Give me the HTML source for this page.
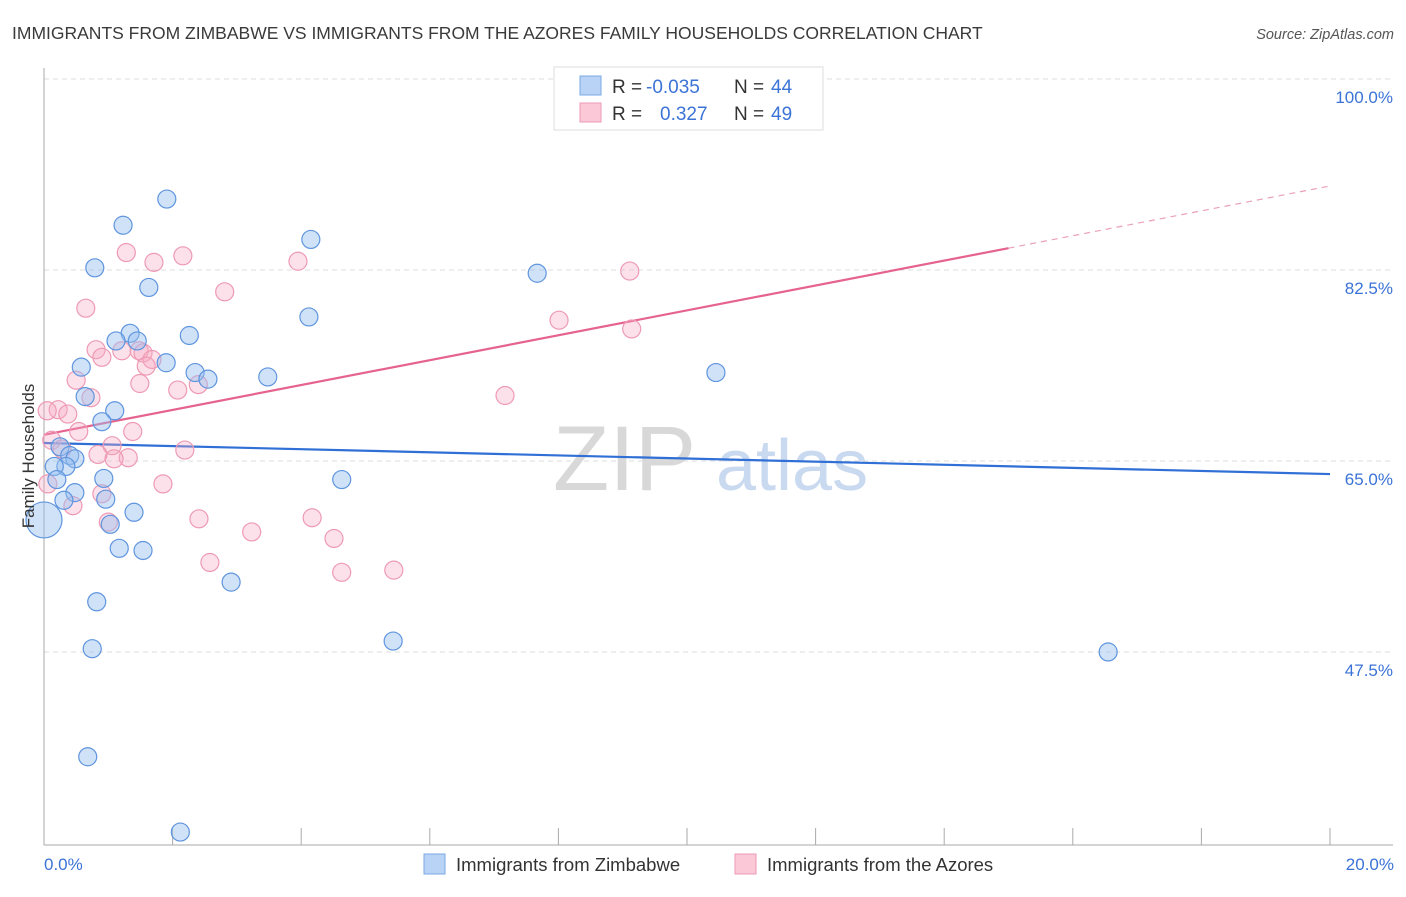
<!DOCTYPE html>
<html><head><meta charset="utf-8"><style>
body{margin:0;background:#fff;font-family:"Liberation Sans",sans-serif;}
svg text{font-family:"Liberation Sans",sans-serif;}
</style></head><body>
<svg id="chart" width="1406" height="892" xmlns="http://www.w3.org/2000/svg">
<text x="12" y="39" font-size="17.5" fill="#3a3a3a">IMMIGRANTS FROM ZIMBABWE VS IMMIGRANTS FROM THE AZORES FAMILY HOUSEHOLDS CORRELATION CHART</text>
<text x="1394" y="39" font-size="14.5" fill="#555" font-style="italic" text-anchor="end">Source: ZipAtlas.com</text>
<g>
<text x="553" y="490" font-size="92" fill="#d8d8d8" font-family="Liberation Serif,serif">ZIP</text>
<text x="716" y="490" font-size="72" fill="#c9d9ef">atlas</text>
</g>
<g id="grid"></g>
<g id="axes"></g>
<g id="trends"></g>
<g id="pts"></g>
<text transform="translate(34,456) rotate(-90)" font-size="17" fill="#333" text-anchor="middle">Family Households</text>
<g>
<rect x="554" y="67" width="269" height="63" fill="#fff" stroke="#ddd"/>
<rect x="580" y="76" width="21" height="19" fill="#b8d3f5" stroke="#7aa8e6"/>
<rect x="580" y="103" width="21" height="19" fill="#fbc8d7" stroke="#ee9ab4"/>
<text x="612" y="93" font-size="19" fill="#333">R =</text>
<text x="646" y="93" font-size="19" fill="#3b73d6">-0.035</text>
<text x="734" y="93" font-size="19" fill="#333">N =</text>
<text x="771" y="93" font-size="19" fill="#3b73d6">44</text>
<text x="612" y="120" font-size="19" fill="#333">R =</text>
<text x="660" y="120" font-size="19" fill="#3b73d6">0.327</text>
<text x="734" y="120" font-size="19" fill="#333">N =</text>
<text x="771" y="120" font-size="19" fill="#3b73d6">49</text>
</g>
<g>
<rect x="424" y="854" width="21" height="20" fill="#b8d3f5" stroke="#7aa8e6"/>
<text x="456" y="871" font-size="18.5" fill="#333">Immigrants from Zimbabwe</text>
<rect x="735" y="854" width="21" height="20" fill="#fbc8d7" stroke="#ee9ab4"/>
<text x="767" y="871" font-size="18.5" fill="#333">Immigrants from the Azores</text>
</g>
</svg>
<script>
const yTicks=[100,82.5,65,47.5];
const yTickLabels=["100.0%","82.5%","65.0%","47.5%"];
const xTickLabels=["0.0%","20.0%"];
const blueX=[1.91,1.23,4.15,0.79,7.67,1.63,4.12,1.34,2.26,1.12,1.45,1.90,0.58,2.35,2.55,3.48,10.45,0.64,1.10,0.90,0.25,0.40,0.48,0.34,0.16,0.20,0.93,4.63,0.48,0.31,0.96,1.40,1.03,1.17,1.54,2.91,0.82,5.43,0.75,16.55,0.68,2.12,0.0];
const blueY=[89.0,86.6,85.3,82.7,82.2,80.9,78.2,76.7,76.5,76.0,76.0,74.0,73.6,73.1,72.5,72.7,73.1,70.9,69.6,68.6,66.3,65.5,65.2,64.5,64.5,63.3,63.4,63.3,62.1,61.4,61.5,60.3,59.2,57.0,56.8,53.9,52.1,48.5,47.8,47.5,37.9,31.0,59.6];
const blueR=[9,9,9,9,9,9,9,9,9,9,9,9,9,9,9,9,9,9,9,9,9,9,9,9,9,9,9,9,9,9,9,9,9,9,9,9,9,9,9,9,9,9,18];
const pinkX=[11.06,1.28,2.16,1.71,3.95,9.11,2.81,0.65,8.01,9.14,0.81,1.21,1.48,1.54,0.90,1.68,1.59,1.49,0.50,2.08,2.40,7.17,0.73,0.22,0.05,0.37,0.54,1.38,0.12,1.06,0.84,1.31,1.09,0.28,2.19,0.06,1.85,0.90,0.45,1.00,2.41,3.23,4.17,4.51,2.58,4.63,5.44];
const pinkY=[99.9,84.1,83.8,83.2,83.3,82.4,80.5,79.0,77.9,77.1,75.2,75.1,75.1,74.9,74.5,74.3,73.7,72.1,72.4,71.5,72.0,71.0,70.8,69.7,69.6,69.3,67.7,67.7,66.9,66.4,65.6,65.3,65.2,66.1,66.0,62.9,62.9,62.0,60.9,59.4,59.7,58.5,59.8,57.9,55.7,54.8,55.0];
const blueTrend=[66.65,63.8];
const pinkTrend=[67.4,90.2];
const pinkSolidEnd=15.0;

const NS="http://www.w3.org/2000/svg";
const X0=44,X1=1330,Y0=79,PPU=10.914;
function sx(v){return X0+(v/20)*(X1-X0);}
function sy(v){return Y0+(100-v)*PPU;}
function mk(tag,attrs,parent){const e=document.createElementNS(NS,tag);for(const k in attrs)e.setAttribute(k,attrs[k]);parent.appendChild(e);return e;}
const grid=document.getElementById('grid'),axes=document.getElementById('axes'),trends=document.getElementById('trends'),pts=document.getElementById('pts');
yTicks.forEach((t,i)=>{
 const l=mk('line',{x1:44,x2:1393,y1:sy(t),y2:sy(t),stroke:'#dcdcdc','stroke-dasharray':'5,4'},grid);
 
 
 const tx=mk('text',{x:1393,y:sy(t)+24,'font-size':17,fill:'#3b73d6','text-anchor':'end'},axes);
 tx.textContent=yTickLabels[i];
 
 
});
const ya=mk('line',{x1:44,x2:44,y1:68,y2:845,stroke:'#aaa'},axes);


const xa=mk('line',{x1:44,x2:1393,y1:845,y2:845,stroke:'#aaa'},axes);


for(let i=0;i<=10;i++){
 const tk=mk('line',{x1:sx(i*2),x2:sx(i*2),y1:828,y2:845,stroke:'#aaa'},axes);
 
 
}
[[0,'start',44],[20,'end',1394]].forEach((d,i)=>{
 const tx=mk('text',{x:d[2],y:870,'font-size':17,fill:'#3b73d6','text-anchor':d[1]},axes);
 tx.textContent=xTickLabels[i];
 
 
});
function draw(xs,ys,rs,fill,stroke,name){
 xs.forEach((x,i)=>{
  const c=mk('circle',{cx:sx(x),cy:sy(ys[i]),r:rs?rs[i]:9,fill:fill,stroke:stroke,'stroke-width':1.2},pts);
  
  
 });
}
draw(pinkX,pinkY,null,'rgba(246,168,194,0.35)','#ee9ab4','point-azores');
draw(blueX,blueY,blueR,'rgba(150,190,240,0.45)','#5f95de','point-zimbabwe');
const bt=mk('line',{x1:sx(0),y1:sy(blueTrend[0]),x2:sx(20),y2:sy(blueTrend[1]),stroke:'#2f6fd6','stroke-width':2.2},trends);


const pEnd=pinkTrend[0]+(pinkTrend[1]-pinkTrend[0])*pinkSolidEnd/20;
const pt=mk('line',{x1:sx(0),y1:sy(pinkTrend[0]),x2:sx(pinkSolidEnd),y2:sy(pEnd),stroke:'#e5638e','stroke-width':2.2},trends);


const pd=mk('line',{x1:sx(pinkSolidEnd),y1:sy(pEnd),x2:sx(20),y2:sy(pinkTrend[1]),stroke:'#eba0b8','stroke-width':1.2,'stroke-dasharray':'6,5'},trends);


</script>
</body></html>
